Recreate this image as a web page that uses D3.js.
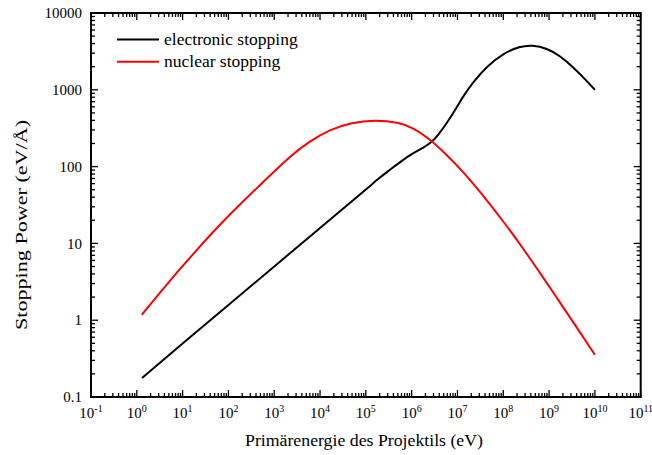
<!DOCTYPE html>
<html>
<head>
<meta charset="utf-8">
<script src="https://cdn.jsdelivr.net/npm/d3@7"></script>
<style>
  html, body { margin: 0; padding: 0; background: #fff; }
  svg text { font-family: "Liberation Serif", "Times New Roman", serif; fill: #000; }
</style>
</head>
<body>
<div id="chart"></div>
<script>
// values
const xTickExponents = [-1, 0, 1, 2, 3, 4, 5, 6, 7, 8, 9, 10, 11];
const yTickValues = [0.1, 1, 10, 100, 1000, 10000];
const yTickLabels = ['0.1', '1', '10', '100', '1000', '10000'];

const energyElectronic = [1.3, 10, 100, 1e3, 1e4, 1e5, 2.0e5, 3.3e5, 5.6e5, 1.07e6, 1.77e6, 2.8e6, 3.8e6, 5.9e6, 9.8e6, 1.3e7, 2.2e7, 4.4e7, 1e8, 2.3e8, 4.3e8, 9e8, 1.74e9, 3.4e9, 6.65e9, 1e10];
const electronicStopping = [0.177, 0.50, 1.58, 5.0, 15.9, 50, 72, 90, 115, 150, 175, 209, 258, 371, 597, 806, 1264, 2028, 2985, 3681, 3819, 3467, 2773, 1959, 1309, 1000];

const energyNuclear = [1.28, 5.3, 20, 55, 180, 490, 2200, 6000, 16500, 45000, 1.6e5, 5.6e5, 1.07e6, 2.2e6, 5.9e6, 1.3e7, 2.8e7, 1.2e8, 2.7e8, 6.4e8, 1.47e9, 3.3e9, 1e10];
const nuclearStopping = [1.17, 3.31, 8.13, 15.9, 32.4, 57.5, 137, 215, 304, 372, 407, 373, 318, 243, 142, 86.7, 51.1, 16.9, 8.63, 4.10, 1.97, 0.96, 0.355];

const seriesNames = ['electronic stopping', 'nuclear stopping'];
const seriesColors = ['#000000', '#ff0000'];

const W = 652, H = 455;
const margin = { top: 13, right: 11.3, bottom: 58, left: 91 };
const width = W - margin.left - margin.right;
const height = H - margin.top - margin.bottom;

const svg = d3.select('#chart').append('svg')
  .attr('width', W)
  .attr('height', H);

const g = svg.append('g')
  .attr('transform', `translate(${margin.left},${margin.top})`);

const x = d3.scaleLog().domain([0.1, 1e11]).range([0, width]);
const y = d3.scaleLog().domain([0.1, 10000]).range([height, 0]);

// minor tick values (2..9 of each decade)
const minorX = [];
for (let e = -1; e < 11; e++) for (let m = 2; m <= 9; m++) minorX.push(m * Math.pow(10, e));
const minorY = [];
for (let e = -1; e < 4; e++) for (let m = 2; m <= 9; m++) minorY.push(m * Math.pow(10, e));
const majorX = xTickExponents.map(e => Math.pow(10, e));

const majorLen = 7, minorLen = 4;

const ticks = g.append('g').attr('stroke', '#000').attr('stroke-width', 1.3);
// bottom & top
[[height, -1], [0, 1]].forEach(([yy, dir]) => {
  ticks.selectAll(null).data(majorX).enter().append('line')
    .attr('x1', d => x(d)).attr('x2', d => x(d))
    .attr('y1', yy).attr('y2', yy + dir * majorLen);
  ticks.selectAll(null).data(minorX).enter().append('line')
    .attr('x1', d => x(d)).attr('x2', d => x(d))
    .attr('y1', yy).attr('y2', yy + dir * minorLen);
});
// left & right
[[0, 1], [width, -1]].forEach(([xx, dir]) => {
  ticks.selectAll(null).data(yTickValues).enter().append('line')
    .attr('y1', d => y(d)).attr('y2', d => y(d))
    .attr('x1', xx).attr('x2', xx + dir * majorLen);
  ticks.selectAll(null).data(minorY).enter().append('line')
    .attr('y1', d => y(d)).attr('y2', d => y(d))
    .attr('x1', xx).attr('x2', xx + dir * minorLen);
});

// frame
g.append('rect')
  .attr('width', width).attr('height', height)
  .attr('fill', 'none').attr('stroke', '#000').attr('stroke-width', 2);

// x tick labels: 10^n
const xl = g.append('g').selectAll('text').data(xTickExponents).enter().append('text')
  .attr('x', d => x(Math.pow(10, d)))
  .attr('y', height + 21)
  .attr('text-anchor', 'middle')
  .style('font-size', '15px');
xl.append('tspan').text('10');
xl.append('tspan').attr('dy', -6).style('font-size', '10px').text(d => String(d));

// y tick labels
g.append('g').selectAll('text').data(yTickValues).enter().append('text')
  .attr('x', -9)
  .attr('y', d => y(d))
  .attr('dy', '0.35em')
  .attr('text-anchor', 'end')
  .style('font-size', '15px')
  .text((d, i) => yTickLabels[i]);

// axis titles
svg.append('text')
  .attr('x', 364)
  .attr('y', 446)
  .attr('text-anchor', 'middle')
  .attr('textLength', 238)
  .attr('lengthAdjust', 'spacingAndGlyphs')
  .style('font-size', '17.5px')
  .text('Primärenergie des Projektils (eV)');

// the y title is drawn stretched along its length in the reference
svg.append('text')
  .attr('transform', 'translate(27,225) rotate(-90)')
  .attr('text-anchor', 'middle')
  .attr('textLength', 210)
  .attr('lengthAdjust', 'spacingAndGlyphs')
  .style('font-size', '17.5px')
  .text('Stopping Power (eV/Å)');

// curves
const line = d3.line()
  .x(d => x(d[0]))
  .y(d => y(d[1]))
  .curve(d3.curveBasis);

const series = [
  d3.zip(energyElectronic, electronicStopping),
  d3.zip(energyNuclear, nuclearStopping)
];

g.append('g').selectAll('path').data(series).enter().append('path')
  .attr('fill', 'none')
  .attr('stroke', (d, i) => seriesColors[i])
  .attr('stroke-width', 2)
  .attr('stroke-linejoin', 'round')
  .attr('d', line);

// legend
const legend = svg.append('g');
seriesNames.forEach((name, i) => {
  const ly = 39.5 + i * 22.3;
  legend.append('line')
    .attr('x1', 117).attr('x2', 159)
    .attr('y1', ly).attr('y2', ly)
    .attr('stroke', seriesColors[i]).attr('stroke-width', 2);
  legend.append('text')
    .attr('x', 164).attr('y', ly + 5.5)
    .style('font-size', '17.5px')
    .text(name);
});
</script>
</body>
</html>
